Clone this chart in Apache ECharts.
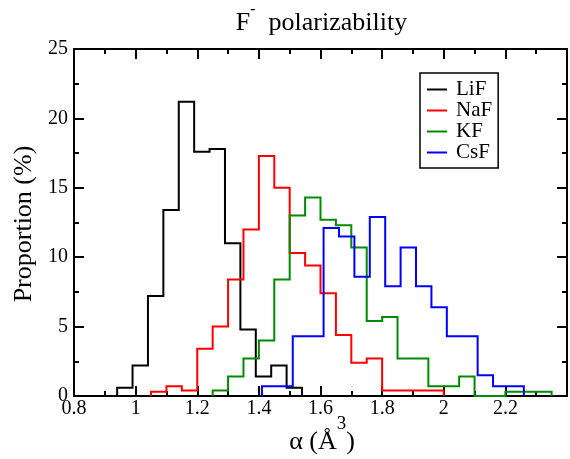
<!DOCTYPE html>
<html><head><meta charset="utf-8">
<script src="https://cdn.jsdelivr.net/npm/echarts@6/dist/echarts.min.js"></script>
<style>html,body{margin:0;padding:0;background:#fff}#c{width:570px;height:459px}</style>
</head><body><div id="c"></div>
<script>
// ---- data ----
const seriesNames = ['LiF', 'NaF', 'KF', 'CsF'];
const seriesColors = ['#000000', '#ff0000', '#008b00', '#0000ff'];
const binWidth = 0.05;
const lifStart = 0.94;
const lifValues = [0.6, 2.2, 7.2, 13.4, 21.2, 17.6, 17.8, 11.0, 4.8, 1.4, 2.2, 0.6];
const nafStart = 1.05;
const nafValues = [0.3, 0.7, 0.4, 3.4, 5.0, 8.4, 12.0, 17.3, 15.0, 10.3, 9.4, 7.4, 4.4, 2.4, 2.7, 0.4, 0.4, 0.4, 0.4];
const kfStart = 1.25;
const kfValues = [0.4, 1.4, 2.7, 4.0, 8.4, 13.0, 14.3, 12.7, 12.3, 10.7, 5.4, 5.7, 2.7, 2.7, 0.7, 0.7, 1.4, 0, 0, 0.3, 0.3, 0.3];
const csfStart = 1.41;
const csfValues = [0.7, 0.7, 4.3, 4.3, 12.1, 11.5, 8.6, 12.9, 7.9, 10.7, 7.9, 6.4, 4.3, 4.3, 1.5, 0.7, 0.7];
const xTickValues = [0.8, 1.0, 1.2, 1.4, 1.6, 1.8, 2.0, 2.2, 2.4];
const xTickLabels = ['0.8', '1', '1.2', '1.4', '1.6', '1.8', '2', '2.2', ''];
const yTickValues = [0, 5, 10, 15, 20, 25];
const yTickLabels = ['0', '5', '10', '15', '20', '25'];

// ---- build ----
const FONT = 'Liberation Serif';
function histPoints(start, values) {
  const pts = [[start, 0]];
  values.forEach((v, i) => pts.push([+(start + i * binWidth).toFixed(4), v]));
  pts.push([+(start + values.length * binWidth).toFixed(4), 0]);
  return pts;
}
const starts = [lifStart, nafStart, kfStart, csfStart];
const valueSets = [lifValues, nafValues, kfValues, csfValues];

function labelFor(vals, labels) {
  return function (v) {
    for (let i = 0; i < vals.length; i++) if (Math.abs(vals[i] - v) < 1e-6) return labels[i];
    return '';
  };
}

const tickCommon = {
  axisLine: { onZero: false, lineStyle: { color: '#000', width: 2 } },
  axisTick: { inside: true, length: 10, lineStyle: { color: '#000', width: 2 } },
  minorTick: { show: true, splitNumber: 2, length: 5, lineStyle: { color: '#000', width: 2 } },
  splitLine: { show: false },
  minorSplitLine: { show: false }
};

const chart = echarts.init(document.getElementById('c'), null, { renderer: 'canvas' });
chart.setOption({
  animation: false,
  backgroundColor: '#fff',
  grid: { left: 74, right: 1, top: 49, bottom: 63 },
  xAxis: [
    Object.assign({
      type: 'value', min: 0.8, max: 2.4, interval: 0.2, position: 'bottom',
      axisLabel: { fontFamily: FONT, fontSize: 20, color: '#000', margin: 3, formatter: labelFor(xTickValues, xTickLabels) }
    }, tickCommon),
    Object.assign({
      type: 'value', min: 0.8, max: 2.4, interval: 0.2, position: 'top',
      axisLabel: { show: false }
    }, tickCommon)
  ],
  yAxis: [
    Object.assign({
      type: 'value', min: 0, max: 25, interval: 5, position: 'left',
      axisLabel: { fontFamily: FONT, fontSize: 20, color: '#000', margin: 6, formatter: labelFor(yTickValues, yTickLabels) }
    }, tickCommon),
    Object.assign({
      type: 'value', min: 0, max: 25, interval: 5, position: 'right',
      axisLabel: { show: false }
    }, tickCommon)
  ],
  legend: {
    orient: 'vertical', left: 420, top: 73,
    icon: 'rect', itemWidth: 20, itemHeight: 2, itemGap: 0,
    padding: [6, 6, 5, 7],
    borderColor: '#000', borderWidth: 1.5, borderRadius: 0, backgroundColor: '#fff',
    textStyle: { fontFamily: FONT, fontSize: 21, color: '#000', lineHeight: 18, padding: [0, 0, 0, 4] },
    data: seriesNames
  },
  series: seriesNames.map((name, k) => ({
    type: 'line', name: name, step: 'end', symbol: 'none', showSymbol: false,
    data: histPoints(starts[k], valueSets[k]),
    lineStyle: { color: seriesColors[k], width: 2, join: 'miter' },
    itemStyle: { color: seriesColors[k] },
    emphasis: { disabled: true },
    clip: false
  })),
  graphic: [
    {
      type: 'text', x: 321.5, y: 23, silent: true,
      style: {
        text: '{a|F}{s|-}{a|  polarizability}',
        textAlign: 'center', textVerticalAlign: 'middle',
        rich: {
          a: { fontFamily: FONT, fontSize: 26, fill: '#000' },
          s: { fontFamily: FONT, fontSize: 16, fill: '#000', verticalAlign: 'top', padding: [0, 0, 26, 0] }
        }
      }
    },
    {
      type: 'text', x: 322, y: 442, silent: true,
      style: {
        text: '{a|α (Å}{s|3}{a|)}',
        textAlign: 'center', textVerticalAlign: 'middle',
        rich: {
          a: { fontFamily: FONT, fontSize: 26, fill: '#000' },
          s: { fontFamily: FONT, fontSize: 19, fill: '#000', verticalAlign: 'top', padding: [0, 0, 35, 0] }
        }
      }
    },
    {
      type: 'text', x: 24, y: 224, rotation: Math.PI / 2, silent: true,
      style: {
        text: 'Proportion (%)', fontFamily: FONT, fontSize: 26, fill: '#000',
        textAlign: 'center', textVerticalAlign: 'middle'
      }
    }
  ]
});
</script></body></html>
